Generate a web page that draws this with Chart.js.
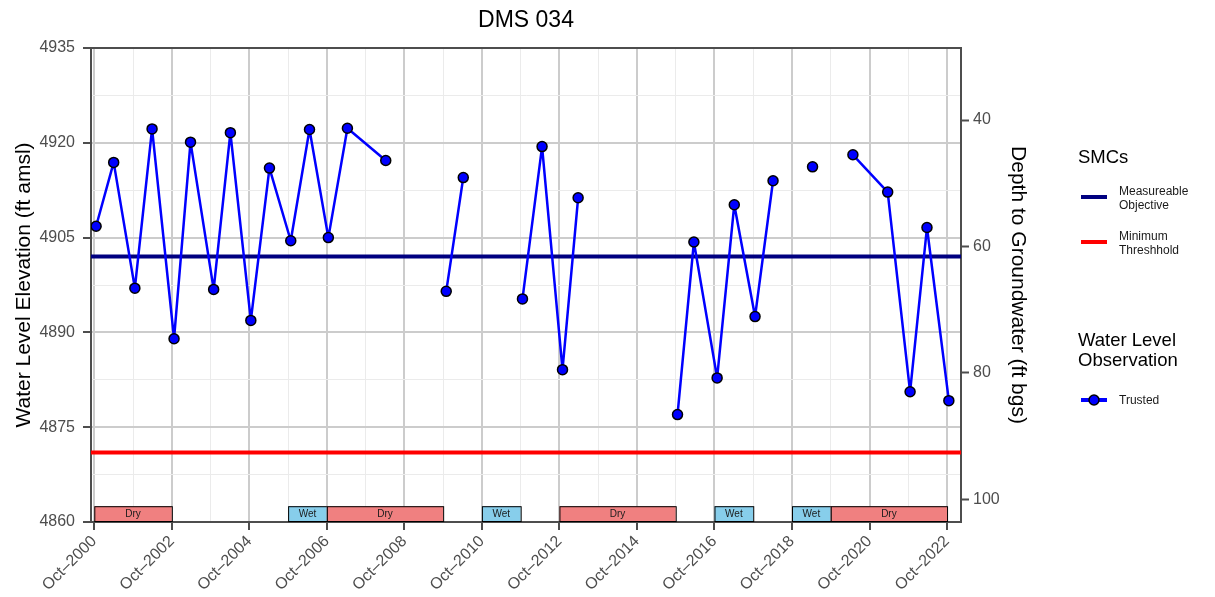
<!DOCTYPE html>
<html>
<head>
<meta charset="utf-8">
<title>DMS 034</title>
<script src="https://cdn.jsdelivr.net/npm/chart.js@4.4.1/dist/chart.umd.min.js"></script>
<style>
  html, body { margin: 0; padding: 0; background: #fff; }
  canvas { display: block; }
</style>
</head>
<body>
<canvas id="chart" width="1215" height="597"></canvas>
<script>
/* global Chart */
// observation dates and water level elevation (ft amsl)
const obsDates = [
  "2000-10-18", "2001-04-01", "2001-10-18", "2002-03-28", "2002-10-22",
  "2003-03-25", "2003-10-30", "2004-04-05", "2004-10-15", "2005-04-08",
  "2005-10-26", "2006-04-20", "2006-10-15", "2007-04-12", "2008-04-08",
  "2009-10-30", "2010-04-08", "2011-10-18", "2012-04-20", "2012-10-30",
  "2013-03-25", "2015-10-18", "2016-03-20", "2016-10-26", "2017-04-05",
  "2017-10-18", "2018-04-05", "2019-04-12", "2020-04-27", "2021-03-20",
  "2021-10-18", "2022-03-25", "2022-10-18",
];
const obsElev = [
  4906.8, 4916.9, 4897.0, 4922.2, 4889.0,
  4920.1, 4896.8, 4921.6, 4891.9, 4916.0,
  4904.5, 4922.1, 4905.0, 4922.3, 4917.2,
  4896.5, 4914.5, 4895.3, 4919.4, 4884.1,
  4911.3, 4877.0, 4904.3, 4882.8, 4910.2,
  4892.5, 4914.0, 4916.2, 4918.1, 4912.2,
  4880.6, 4906.6, 4879.2,
];

// sustainable management criteria
const groundElev = 4963.6;
const moElev = 4902;
const mtElev = 4871;

// water year types
const wyStart = ["2000-10-01", "2005-10-01", "2006-10-01", "2010-10-01", "2012-10-01", "2016-10-01", "2018-10-01", "2019-10-01"];
const wyEnd   = ["2002-10-01", "2006-10-01", "2009-10-01", "2011-10-01", "2015-10-01", "2017-10-01", "2019-10-01", "2022-10-01"];
const wyType  = ["Dry", "Wet", "Dry", "Wet", "Dry", "Wet", "Wet", "Dry"];

// axes
const xTickLabels = ["Oct–2000", "Oct–2002", "Oct–2004", "Oct–2006", "Oct–2008", "Oct–2010",
  "Oct–2012", "Oct–2014", "Oct–2016", "Oct–2018", "Oct–2020", "Oct–2022"];
const elevTicks = [4860, 4875, 4890, 4905, 4920, 4935];
const depthTicks = [40, 60, 80, 100];

const FONT = "'Liberation Sans', Arial, Helvetica, sans-serif";
const AXIS = "#4d4d4d";
const MAJOR = "#cccccc";
const MINOR = "#ebebeb";

function dec(s) {
  const [y, m, d] = s.split("-").map(Number);
  return y + (m - 1) / 12 + (d - 1) / 365;
}
function labelYear(l) {
  return Number(l.slice(-4)) + 0.75;
}

const majorX = xTickLabels.map(labelYear);
const xTicks = [];
majorX.forEach((v, i) => {
  xTicks.push(v);
  if (i < majorX.length - 1) xTicks.push((v + majorX[i + 1]) / 2);
});
const yTicks = [];
elevTicks.forEach((v, i) => {
  yTicks.push(v);
  if (i < elevTicks.length - 1) yTicks.push((v + elevTicks[i + 1]) / 2);
});
const xMin = majorX[0] - 0.085;
const xMax = majorX[majorX.length - 1] + 0.36;

// break the line where readings are more than a year apart
const obsPts = [];
obsDates.forEach((d, i) => {
  const x = dec(d);
  if (i > 0 && x - dec(obsDates[i - 1]) > 1.0) {
    obsPts.push({ x: (x + dec(obsDates[i - 1])) / 2, y: null });
  }
  obsPts.push({ x, y: obsElev[i] });
});

const isMajorX = (v) => majorX.some((m) => Math.abs(m - v) < 1e-6);
const isMajorY = (v) => elevTicks.includes(v);

const decor = {
  id: "decor",
  beforeDatasetsDraw(chart) {
    const { ctx, chartArea: a, scales } = chart;
    const x = scales.x, y = scales.y;
    ctx.save();
    // top frame line
    ctx.strokeStyle = AXIS;
    ctx.lineWidth = 2;
    ctx.beginPath();
    ctx.moveTo(a.left - 1, a.top);
    ctx.lineTo(a.right + 1, a.top);
    ctx.stroke();
    // water year bands
    const yTop = y.getPixelForValue(4862.5);
    const yBot = y.getPixelForValue(4860) - 1;
    ctx.font = `10px ${FONT}`;
    ctx.textAlign = "center";
    ctx.textBaseline = "middle";
    wyType.forEach((t, i) => {
      const x0 = x.getPixelForValue(dec(wyStart[i]));
      const x1 = x.getPixelForValue(dec(wyEnd[i]));
      ctx.fillStyle = t === "Dry" ? "#f08080" : "#87ceeb";
      ctx.fillRect(x0, yTop, x1 - x0, yBot - yTop);
      ctx.strokeStyle = "#000";
      ctx.lineWidth = 1;
      ctx.strokeRect(x0 + 0.5, yTop + 0.5, x1 - x0, yBot - yTop);
      ctx.fillStyle = "#1a1a1a";
      ctx.fillText(t, (x0 + x1) / 2, (yTop + yBot) / 2 + 1);
    });
    ctx.restore();
  },
  afterDraw(chart) {
    const { ctx, chartArea: a } = chart;
    ctx.save();
    ctx.fillStyle = "#000";
    ctx.textAlign = "center";
    ctx.textBaseline = "alphabetic";
    ctx.font = `23px ${FONT}`;
    ctx.fillText("DMS 034", (a.left + a.right) / 2, 27);

    // legend
    const lx = 1078, sx = 1081, tx = 1119;
    ctx.textAlign = "left";
    ctx.font = `18.5px ${FONT}`;
    ctx.fillText("SMCs", lx, 163);
    ctx.fillText("Water Level", lx, 346);
    ctx.fillText("Observation", lx, 366);

    ctx.lineWidth = 4;
    ctx.strokeStyle = "#000080";
    ctx.beginPath(); ctx.moveTo(sx, 197); ctx.lineTo(sx + 26, 197); ctx.stroke();
    ctx.strokeStyle = "#ff0000";
    ctx.beginPath(); ctx.moveTo(sx, 242); ctx.lineTo(sx + 26, 242); ctx.stroke();
    ctx.strokeStyle = "#0000ff";
    ctx.beginPath(); ctx.moveTo(sx, 400); ctx.lineTo(sx + 26, 400); ctx.stroke();
    ctx.beginPath();
    ctx.arc(sx + 13, 400, 5, 0, Math.PI * 2);
    ctx.fillStyle = "#0000ff";
    ctx.fill();
    ctx.lineWidth = 1.5;
    ctx.strokeStyle = "#000";
    ctx.stroke();

    ctx.fillStyle = "#1a1a1a";
    ctx.font = `12px ${FONT}`;
    ctx.fillText("Measureable", tx, 195);
    ctx.fillText("Objective", tx, 208.5);
    ctx.fillText("Minimum", tx, 240);
    ctx.fillText("Threshhold", tx, 253.5);
    ctx.fillText("Trusted", tx, 404);
    ctx.restore();
  },
};

new Chart(document.getElementById("chart"), {
  type: "line",
  data: {
    datasets: [
      {
        label: "Trusted",
        data: obsPts,
        borderColor: "#0000ff",
        borderWidth: 2.5,
        borderJoinStyle: "round",
        borderCapStyle: "round",
        pointRadius: 5,
        pointBackgroundColor: "#0000ff",
        pointBorderColor: "#000",
        pointBorderWidth: 1.5,
        spanGaps: false,
        tension: 0,
      },
      {
        label: "Measureable Objective",
        data: [{ x: xMin, y: moElev }, { x: xMax, y: moElev }],
        borderColor: "#000080",
        borderWidth: 4,
        pointRadius: 0,
      },
      {
        label: "Minimum Threshhold",
        data: [{ x: xMin, y: mtElev }, { x: xMax, y: mtElev }],
        borderColor: "#ff0000",
        borderWidth: 4,
        pointRadius: 0,
      },
    ],
  },
  options: {
    responsive: false,
    animation: false,
    devicePixelRatio: 1,
    layout: { padding: { left: 0, right: 184, top: 48, bottom: 0 } },
    plugins: { legend: { display: false }, tooltip: { enabled: false } },
    scales: {
      x: {
        type: "linear",
        min: xMin,
        max: xMax,
        afterBuildTicks(s) { s.ticks = xTicks.map((v) => ({ value: v })); },
        afterFit(s) { s.height = 75; },
        ticks: {
          autoSkip: false,
          maxRotation: 45,
          minRotation: 45,
          padding: 2,
          color: AXIS,
          font: { family: FONT, size: 16 },
          callback(v) {
            const i = majorX.findIndex((m) => Math.abs(m - v) < 1e-6);
            return i >= 0 ? xTickLabels[i] : "";
          },
        },
        grid: {
          color: (c) => (isMajorX(c.tick.value) ? MAJOR : MINOR),
          lineWidth: (c) => (isMajorX(c.tick.value) ? 2 : 1),
          tickColor: (c) => (isMajorX(c.tick.value) ? AXIS : "rgba(0,0,0,0)"),
          tickLength: 8,
          tickWidth: 2,
        },
        border: { color: AXIS, width: 2 },
      },
      y: {
        position: "left",
        min: 4860,
        max: 4935,
        afterBuildTicks(s) { s.ticks = yTicks.map((v) => ({ value: v })); },
        afterFit(s) { s.width = 91; },
        ticks: {
          padding: 8,
          color: AXIS,
          font: { family: FONT, size: 16 },
          callback: (v) => (isMajorY(v) ? String(v) : ""),
        },
        grid: {
          color: (c) => (isMajorY(c.tick.value) ? MAJOR : MINOR),
          lineWidth: (c) => (isMajorY(c.tick.value) ? 2 : 1),
          tickColor: (c) => (isMajorY(c.tick.value) ? AXIS : "rgba(0,0,0,0)"),
          tickLength: 8,
          tickWidth: 2,
        },
        border: { color: AXIS, width: 2 },
        title: {
          display: true,
          text: "Water Level Elevation (ft amsl)",
          color: "#000",
          font: { family: FONT, size: 21 },
          padding: { top: 12 },
        },
      },
      y2: {
        position: "right",
        reverse: true,
        min: groundElev - 4935,
        max: groundElev - 4860,
        afterBuildTicks(s) { s.ticks = depthTicks.map((v) => ({ value: v })); },
        afterFit(s) { s.width = 70; },
        ticks: {
          padding: 4,
          color: AXIS,
          font: { family: FONT, size: 16 },
        },
        grid: {
          drawOnChartArea: false,
          tickColor: AXIS,
          tickLength: 8,
          tickWidth: 2,
        },
        border: { color: AXIS, width: 2 },
        title: {
          display: true,
          text: "Depth to Groundwater (ft bgs)",
          color: "#000",
          font: { family: FONT, size: 21 },
          padding: { top: 1 },
        },
      },
    },
  },
  plugins: [decor],
});
</script>
</body>
</html>
